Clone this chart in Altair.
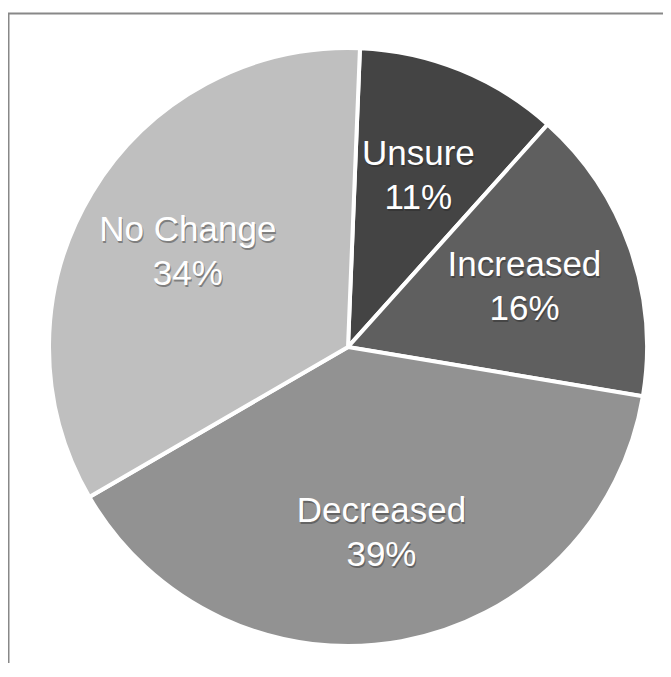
import altair as alt
import pandas as pd
import math

categories = ["Unsure", "Increased", "Decreased", "No Change"]
values = [11, 16, 39, 34]
colors = ["#444444", "#5f5f5f", "#929292", "#bfbfbf"]

df = pd.DataFrame({
    "category": categories,
    "value": values,
    "order": list(range(len(categories))),
})
df["label"] = [f"{c}\n{v}%" for c, v in zip(categories, values)]

start = 0.04
theta = alt.Theta("value:Q", stack=True,
                  scale=alt.Scale(range=[start, start + 2 * math.pi]))
cx, cy = 340, 334

base = alt.Chart(df).encode(
    theta=theta,
    order=alt.Order("order:Q"),
)

arcs = base.mark_arc(radius=299, stroke="white", strokeWidth=4).encode(
    x=alt.value(cx), y=alt.value(cy),
    color=alt.Color("category:N", scale=alt.Scale(domain=categories, range=colors), legend=None),
)

font = dict(font="Liberation Sans", fontSize=35, lineBreak="\n", lineHeight=44,
            align="center", baseline="middle", radius=187)

shadow = base.mark_text(color="#222222", opacity=0.4, dx=1, dy=-18, **font).encode(
    x=alt.value(cx), y=alt.value(cy), text="label:N")
labels = base.mark_text(color="white", dy=-20, **font).encode(
    x=alt.value(cx), y=alt.value(cy), text="label:N")

frame_df = pd.DataFrame({"k": [0]})
left_rule = alt.Chart(frame_df).mark_rule(color="#888888", strokeWidth=2).encode(
    x=alt.value(0.5), y=alt.value(0), y2=alt.value(650))
top_rule = alt.Chart(frame_df).mark_rule(color="#888888", strokeWidth=2).encode(
    x=alt.value(0), x2=alt.value(655), y=alt.value(0.5))

chart = alt.layer(arcs, shadow, labels, left_rule, top_rule).properties(
    width=655, height=650,
    autosize=alt.AutoSizeParams(type="none"),
    padding={"left": 0, "top": 5, "right": 0, "bottom": 0},
).configure_view(stroke=None)

chart.save("out.html", embed_options={"renderer": "svg", "actions": False})
